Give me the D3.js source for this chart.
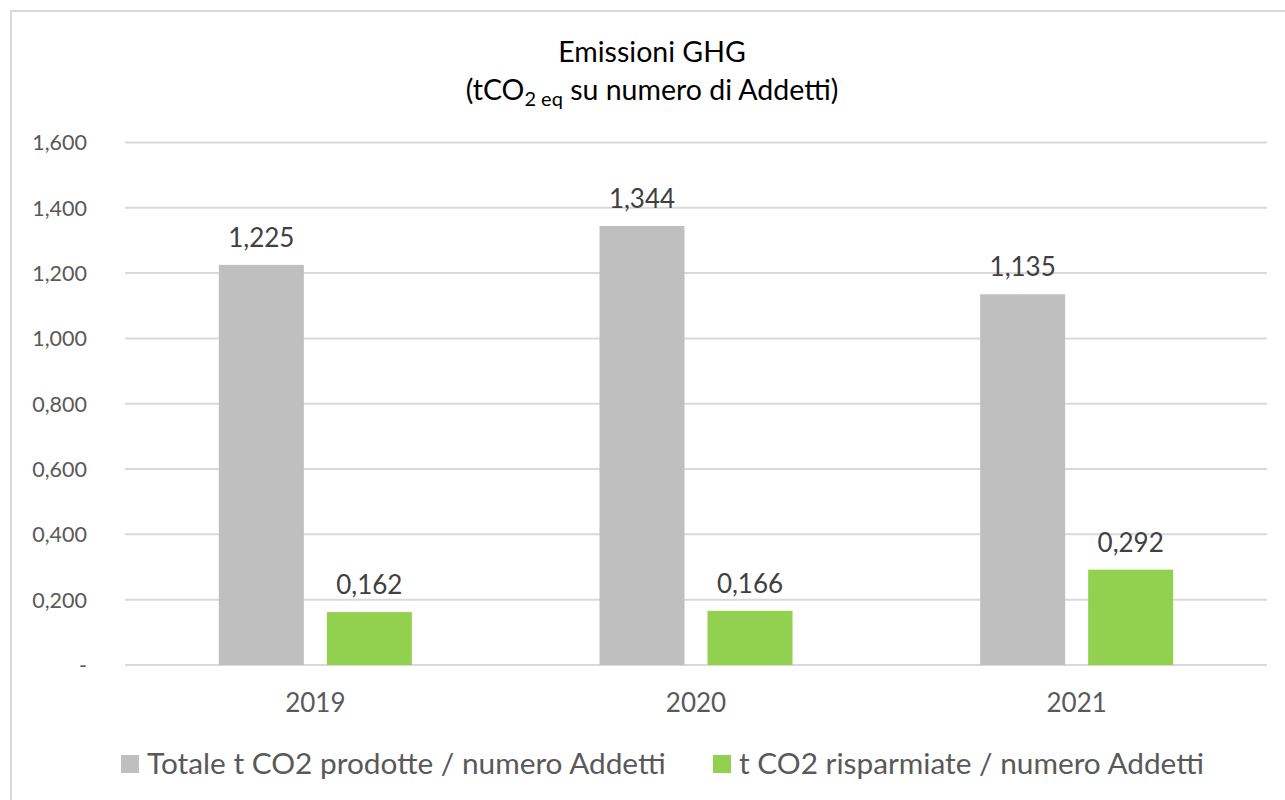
<!DOCTYPE html>
<html>
<head>
<meta charset="utf-8">
<script src="https://cdn.jsdelivr.net/npm/d3@7"></script>
<style>
  body { margin: 0; background: #fff; }
  svg { display: block; font-family: Lato, 'Open Sans', sans-serif; }
</style>
</head>
<body>
<svg id="chart" width="1285" height="800"></svg>
<script>
var years = ['2019', '2020', '2021']
var prodotte = [1.225, 1.344, 1.135]
var risparmiate = [0.162, 0.166, 0.292]
var yTicks = [0, 0.2, 0.4, 0.6, 0.8, 1.0, 1.2, 1.4, 1.6]
var seriesNames = ['Totale t CO2 prodotte / numero Addetti', 't CO2 risparmiate / numero Addetti']
var colors = ['#bfbfbf', '#92d050']

function draw() {
  var svg = d3.select('#chart')

  // outer frame
  svg.append('rect')
    .attr('x', 11).attr('y', 11)
    .attr('width', 1300).attr('height', 820)
    .attr('fill', 'none')
    .attr('stroke', '#d9d9d9')
    .attr('stroke-width', 2)

  var plotLeft = 125, plotRight = 1267, plotTop = 142.4, plotBottom = 665

  var x = d3.scaleBand().domain(years).range([plotLeft, plotRight])
  var y = d3.scaleLinear().domain([0, 1.6]).range([plotBottom, plotTop])

  function fmt(v) {
    if (v === 0) return '-'
    return d3.format('.3f')(v).replace('.', ',')
  }

  // gridlines
  svg.append('g').selectAll('line')
    .data(yTicks)
    .enter().append('line')
    .attr('x1', plotLeft).attr('x2', plotRight)
    .attr('y1', function(d) { return y(d) }).attr('y2', function(d) { return y(d) })
    .attr('stroke', '#d9d9d9')
    .attr('stroke-width', 2)

  // y tick labels
  svg.append('g').selectAll('text')
    .data(yTicks)
    .enter().append('text')
    .attr('x', 87)
    .attr('y', function(d) { return y(d) + 8 })
    .attr('text-anchor', 'end')
    .attr('font-size', 21.5)
    .attr('fill', '#595959')
    .text(fmt)

  var barW = 85, gap = 23
  var series = [prodotte, risparmiate]

  function barX(i, si) {
    return x(years[i]) + x.bandwidth() / 2 - (barW * 2 + gap) / 2 + si * (barW + gap)
  }

  series.forEach(function(vals, si) {
    var g = svg.append('g')
    g.selectAll('rect')
      .data(vals)
      .enter().append('rect')
      .attr('x', function(d, i) { return barX(i, si) })
      .attr('y', function(d) { return y(d) })
      .attr('width', barW)
      .attr('height', function(d) { return plotBottom - y(d) })
      .attr('fill', colors[si])
    g.selectAll('text')
      .data(vals)
      .enter().append('text')
      .attr('x', function(d, i) { return barX(i, si) + barW / 2 })
      .attr('y', function(d) { return y(d) - 18 })
      .attr('text-anchor', 'middle')
      .attr('font-size', 26)
      .attr('fill', '#404040')
      .text(fmt)
  })

  // x labels
  svg.append('g').selectAll('text')
    .data(years)
    .enter().append('text')
    .attr('x', function(d) { return x(d) + x.bandwidth() / 2 })
    .attr('y', 712)
    .attr('text-anchor', 'middle')
    .attr('font-size', 26)
    .attr('fill', '#595959')
    .text(function(d) { return d })

  // title
  var title = svg.append('text')
    .attr('text-anchor', 'middle')
    .attr('font-size', 28.5)
    .attr('fill', '#000')
  title.append('tspan').attr('x', 652).attr('y', 62).text('Emissioni GHG')
  var t2 = title.append('tspan').attr('x', 652).attr('y', 100)
  t2.append('tspan').text('(tCO')
  t2.append('tspan').attr('font-size', 20).attr('dy', 6).text('2 eq')
  t2.append('tspan').attr('dy', -6).text(' su numero di Addetti)')

  // legend
  var legX = [121, 713]
  seriesNames.forEach(function(name, i) {
    svg.append('rect')
      .attr('x', legX[i]).attr('y', 755)
      .attr('width', 18).attr('height', 18)
      .attr('fill', colors[i])
    svg.append('text')
      .attr('x', legX[i] + 26).attr('y', 774)
      .attr('font-size', 29.8)
      .attr('fill', '#595959')
      .text(name)
  })
}

draw()
</script>
</body>
</html>
